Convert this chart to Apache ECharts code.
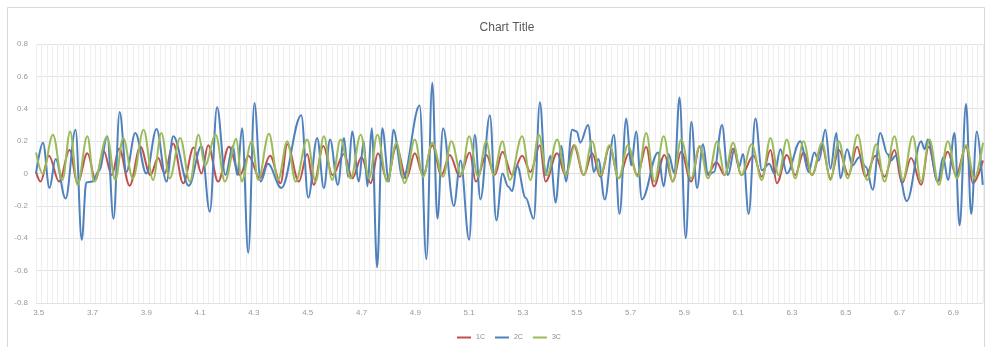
<!DOCTYPE html>
<html>
<head>
<meta charset="utf-8">
<script src="https://cdn.jsdelivr.net/npm/echarts@6/dist/echarts.min.js"></script>
<style>
html,body{margin:0;padding:0;background:#fff;}
#chart{width:987px;height:347px;}
</style>
</head>
<body>
<div id="chart"></div>
<script>
// ---- Data (time, value) ----
var seriesNames = ['1C', '2C', '3C'];
var xTickLabels = [3.5, 3.7, 3.9, 4.1, 4.3, 4.5, 4.7, 4.9, 5.1, 5.3, 5.5, 5.7, 5.9, 6.1, 6.3, 6.5, 6.7, 6.9];
var yTickLabels = [-0.8, -0.6, -0.4, -0.2, 0, 0.2, 0.4, 0.6, 0.8];

var data1C = [
[3.490,0.01],[3.507,-0.05],[3.538,0.11],[3.576,-0.05],[3.615,0.145],[3.644,-0.06],[3.681,0.125],[3.712,-0.04],
[3.741,0.14],[3.772,-0.01],[3.799,0.155],[3.838,-0.075],[3.878,0.165],[3.915,-0.01],[3.944,0.095],[3.968,0.0],
[4.000,0.185],[4.037,-0.06],[4.076,0.16],[4.105,0.0],[4.130,0.175],[4.167,-0.05],[4.207,0.165],[4.248,-0.01],
[4.280,0.11],[4.322,-0.03],[4.360,0.11],[4.399,-0.06],[4.424,0.18],[4.467,-0.05],[4.498,0.12],[4.522,-0.07],
[4.558,0.17],[4.592,-0.01],[4.635,0.12],[4.666,-0.03],[4.700,0.10],[4.734,-0.06],[4.761,0.125],[4.795,-0.04],
[4.829,0.165],[4.867,-0.03],[4.898,0.125],[4.929,-0.01],[4.963,0.175],[4.997,-0.01],[5.028,0.115],[5.065,-0.02],
[5.102,0.13],[5.125,-0.05],[5.164,0.115],[5.195,-0.01],[5.224,0.135],[5.260,-0.01],[5.297,0.11],[5.328,0.01],
[5.363,0.175],[5.384,-0.05],[5.427,0.125],[5.458,-0.01],[5.489,0.175],[5.526,-0.01],[5.557,0.125],[5.588,-0.02],
[5.622,0.165],[5.656,-0.03],[5.694,0.125],[5.725,-0.01],[5.758,0.165],[5.787,-0.08],[5.826,0.115],[5.857,-0.05],
[5.888,0.135],[5.925,-0.05],[5.957,0.165],[5.988,0.0],[6.019,0.07],[6.050,-0.01],[6.081,0.155],[6.112,-0.01],
[6.157,0.11],[6.188,-0.02],[6.220,0.145],[6.244,-0.06],[6.281,0.115],[6.312,-0.01],[6.343,0.13],[6.374,-0.01],
[6.412,0.165],[6.443,-0.03],[6.474,0.145],[6.510,-0.01],[6.542,0.165],[6.573,-0.02],[6.610,0.11],[6.644,-0.02],
[6.681,0.145],[6.709,-0.06],[6.743,0.095],[6.780,-0.07],[6.808,0.165],[6.842,-0.05],[6.879,0.135],[6.910,-0.01],
[6.947,0.165],[6.972,-0.06],[7.010,0.08]
];

var data2C = [
[3.490,0.0],[3.516,0.19],[3.540,-0.09],[3.563,0.09],[3.600,-0.155],[3.637,0.27],[3.660,-0.41],[3.677,-0.055],
[3.700,-0.05],[3.725,0.02],[3.755,0.23],[3.778,-0.28],[3.801,0.38],[3.826,0.01],[3.859,0.25],[3.900,0.0],
[3.938,0.275],[3.975,-0.05],[4.000,0.23],[4.058,-0.075],[4.105,0.17],[4.136,-0.236],[4.163,0.41],[4.194,-0.01],
[4.222,0.17],[4.238,-0.01],[4.256,0.28],[4.279,-0.49],[4.302,0.435],[4.325,-0.05],[4.352,0.06],[4.402,-0.09],
[4.476,0.36],[4.502,-0.15],[4.535,0.22],[4.560,-0.09],[4.583,0.21],[4.612,-0.07],[4.635,0.22],[4.650,-0.02],
[4.665,0.26],[4.690,-0.05],[4.708,0.20],[4.722,-0.08],[4.738,0.28],[4.758,-0.58],[4.777,0.28],[4.802,-0.05],
[4.818,0.27],[4.854,-0.03],[4.916,0.42],[4.941,-0.53],[4.963,0.56],[4.982,-0.28],[5.003,0.28],[5.043,-0.20],
[5.068,0.08],[5.100,-0.41],[5.121,0.24],[5.142,-0.16],[5.177,0.36],[5.201,-0.29],[5.224,0.0],[5.245,-0.08],
[5.260,-0.11],[5.278,0.05],[5.310,-0.15],[5.340,-0.28],[5.363,0.44],[5.384,-0.01],[5.402,0.11],[5.421,-0.18],
[5.443,0.17],[5.460,-0.05],[5.483,0.27],[5.500,0.26],[5.513,0.19],[5.542,0.30],[5.564,0.01],[5.580,0.09],
[5.604,-0.16],[5.638,0.24],[5.659,-0.25],[5.684,0.34],[5.702,0.05],[5.721,0.26],[5.742,-0.16],[5.802,0.13],
[5.823,-0.08],[5.841,0.12],[5.863,0.0],[5.882,0.47],[5.905,-0.40],[5.926,0.32],[5.947,-0.09],[5.969,0.18],
[5.988,-0.01],[6.010,0.01],[6.040,0.30],[6.062,-0.01],[6.087,0.155],[6.103,0.04],[6.118,0.12],[6.139,-0.25],
[6.164,0.34],[6.188,0.02],[6.215,0.06],[6.235,0.0],[6.257,0.15],[6.281,0.0],[6.331,0.20],[6.362,0.01],
[6.383,0.13],[6.400,0.08],[6.424,0.27],[6.443,0.03],[6.465,0.25],[6.480,-0.03],[6.505,0.15],[6.525,0.05],
[6.550,0.10],[6.575,0.04],[6.600,-0.10],[6.628,0.25],[6.655,0.12],[6.668,0.08],[6.685,0.11],[6.727,-0.17],
[6.780,0.20],[6.793,0.15],[6.805,0.21],[6.842,-0.05],[6.862,0.10],[6.880,-0.04],[6.904,0.25],[6.923,-0.32],
[6.947,0.43],[6.966,-0.25],[6.987,0.26],[7.009,-0.07]
];

var data3C = [
[3.490,0.13],[3.515,0.0],[3.553,0.24],[3.588,-0.04],[3.617,0.26],[3.644,-0.07],[3.681,0.23],[3.706,-0.05],
[3.754,0.225],[3.785,-0.04],[3.814,0.22],[3.850,-0.03],[3.890,0.27],[3.925,-0.04],[3.956,0.25],[3.987,-0.03],
[4.026,0.22],[4.062,-0.05],[4.094,0.24],[4.118,0.05],[4.158,0.24],[4.192,-0.05],[4.235,0.215],[4.254,-0.05],
[4.292,0.20],[4.316,-0.04],[4.356,0.245],[4.390,-0.04],[4.424,0.20],[4.455,-0.05],[4.498,0.21],[4.529,-0.05],
[4.560,0.23],[4.591,-0.04],[4.622,0.21],[4.660,-0.03],[4.697,0.24],[4.728,-0.03],[4.759,0.24],[4.795,-0.05],
[4.830,0.19],[4.860,-0.06],[4.898,0.21],[4.929,-0.02],[4.963,0.19],[5.003,-0.02],[5.034,0.20],[5.071,-0.01],
[5.100,0.23],[5.133,-0.02],[5.164,0.20],[5.190,-0.01],[5.224,0.20],[5.251,-0.04],[5.297,0.23],[5.328,-0.04],
[5.359,0.24],[5.390,-0.01],[5.427,0.21],[5.460,-0.01],[5.493,0.175],[5.526,-0.01],[5.557,0.20],[5.588,-0.01],
[5.622,0.175],[5.656,-0.03],[5.690,0.175],[5.727,-0.02],[5.758,0.25],[5.789,-0.05],[5.823,0.23],[5.857,-0.05],
[5.888,0.21],[5.925,-0.03],[5.957,0.17],[5.988,-0.03],[6.022,0.20],[6.050,-0.01],[6.081,0.19],[6.112,-0.01],
[6.150,0.18],[6.188,-0.04],[6.220,0.22],[6.250,-0.01],[6.281,0.21],[6.312,-0.03],[6.343,0.20],[6.374,-0.01],
[6.412,0.19],[6.443,-0.04],[6.474,0.20],[6.507,-0.03],[6.544,0.24],[6.579,-0.04],[6.613,0.18],[6.644,-0.05],
[6.681,0.23],[6.712,-0.04],[6.749,0.23],[6.780,-0.05],[6.811,0.21],[6.846,-0.07],[6.879,0.20],[6.913,-0.03],
[6.947,0.175],[6.978,-0.03],[7.010,0.19]
];

var colors = ['#C0504D', '#4F81BD', '#9BBB59'];
var FONT = 'Liberation Sans';

var chart = echarts.init(document.getElementById('chart'), null, {renderer: 'canvas'});

function mkSeries(name, data, color) {
  return {
    name: name,
    type: 'line',
    data: data,
    smooth: 0.36,
    smoothMonotone: 'x',
    symbol: 'none',
    showSymbol: false,
    clip: true,
    lineStyle: {color: color, width: 2},
    itemStyle: {color: color},
    emphasis: {disabled: true},
    animation: false
  };
}

chart.setOption({
  animation: false,
  backgroundColor: '#ffffff',
  graphic: [{
    type: 'rect',
    shape: {x: 7.5, y: 7.5, width: 977, height: 345},
    style: {fill: 'none', stroke: '#d9d9d9', lineWidth: 1},
    silent: true,
    z: -10
  }],
  title: {
    text: 'Chart Title',
    left: 502,
    textAlign: 'center',
    top: 17,
    textStyle: {fontFamily: FONT, fontSize: 12, fontWeight: 'normal', color: '#595959'}
  },
  legend: {
    data: seriesNames,
    left: 452,
    top: 329,
    icon: 'rect',
    itemWidth: 14,
    itemHeight: 2,
    itemGap: 10,
    textStyle: {fontFamily: FONT, fontSize: 7, color: '#8c8c8c'}
  },
  grid: {left: 36, right: 4, top: 44, bottom: 44, containLabel: false},
  xAxis: {
    type: 'value',
    min: 3.49,
    max: 7.01,
    interval: 0.02,
    axisLine: {show: true, lineStyle: {color: '#dedede', width: 1}},
    axisTick: {show: false},
    splitLine: {show: true, lineStyle: {color: '#eeeeee', width: 1}},
    axisLabel: {
      customValues: xTickLabels,
      formatter: function (v) { return v.toFixed(1); },
      fontFamily: FONT, fontSize: 8, color: '#999999', margin: 6
    }
  },
  yAxis: {
    type: 'value',
    min: -0.8,
    max: 0.8,
    interval: 0.2,
    axisLine: {show: false},
    axisTick: {show: false},
    splitLine: {show: true, lineStyle: {color: '#e2e2e2', width: 1}},
    axisLabel: {
      customValues: yTickLabels,
      formatter: function (v) { var r = Math.round(v * 10) / 10; return r === 0 ? '0' : String(r); },
      fontFamily: FONT, fontSize: 8, color: '#999999', margin: 8
    }
  },
  series: [
    mkSeries(seriesNames[0], data1C, colors[0]),
    mkSeries(seriesNames[1], data2C, colors[1]),
    mkSeries(seriesNames[2], data3C, colors[2])
  ]
});
</script>
</body>
</html>
